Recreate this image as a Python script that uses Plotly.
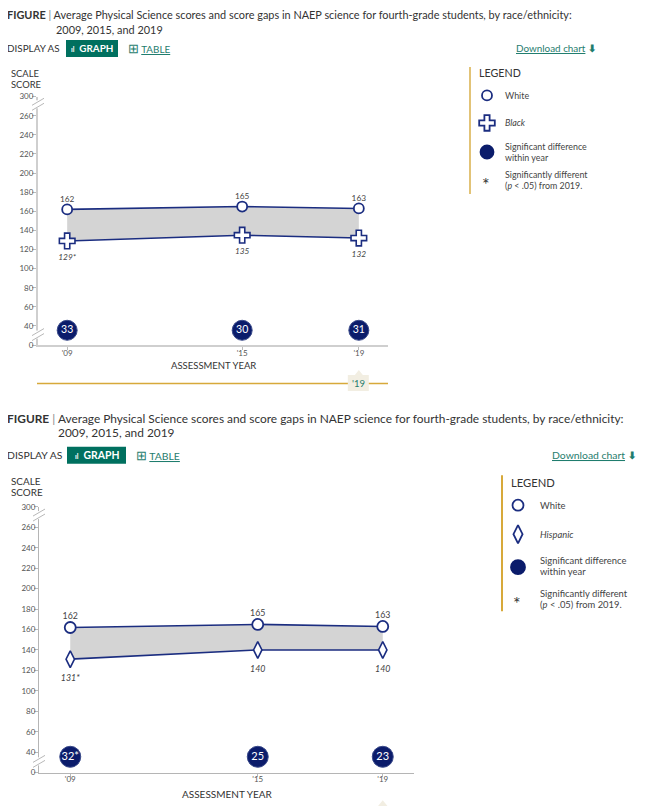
import plotly.graph_objects as go

# reference canvas is 667x806; the page body adds an 8px margin.  The photographed page also
# maps page rows to picture rows as  picture_y = SHIFT + SCALE_Y * page_y, which is undone below.
W, H = 667, 806
OFF = 8
SHIFT, SCALE_Y = 5.2, 0.987
FW, FH = W - 2 * OFF, 803
FONT = "Lato, 'Open Sans', sans-serif"

# ---------------- data ----------------
years = [2009, 2015, 2019]
year_labels = ["'09", "'15", "'19"]
ytick_vals = [20, 40, 60, 80, 100, 120, 140, 160, 180, 200, 220, 240, 260, 280]
ytick_text = ["0", "40", "60", "80", "100", "120", "140", "160", "180", "200", "220", "240", "260", "300"]

p1_white = [162, 165, 163]
p1_black = [129, 135, 132]
p1_white_labels = ["162", "165", "163"]
p1_black_labels = ["129*", "135", "132"]
p1_gaps = ["33", "30", "31"]

p2_white = [162, 165, 163]
p2_hisp = [131, 140, 140]
p2_white_labels = ["162", "165", "163"]
p2_hisp_labels = ["131*", "140", "140"]
p2_gaps = ["32*", "25", "23"]

GAP_LEVEL = 35.5
title_text = ("<b>FIGURE</b> <span style='color:#888'>|</span> Average Physical Science scores and score gaps "
              "in NAEP science for fourth-grade students, by race/ethnicity:")

# ---------------- styling ----------------
NAVY = "#1b2d80"
NAVY_DARK = "#0b1c6b"
GRAY_FILL = "#d4d4d4"
TEAL = "#1f7d6e"
BTN = "#00705f"
GOLD = "#d7a93a"
GOLD_LIGHT = "#e2c377"
CLEAR = "rgba(0,0,0,0)"

# panel geometry in reference pixels (left, right, y of value 20, y of value 280)
P1 = dict(l=38, r=388, yb=345.0, yt=96.7)
P2 = dict(l=39, r=414, yb=772.3, yt=506.7)


def vpx(p, v):
    return p["yb"] - (v - 20) * (p["yb"] - p["yt"]) / 260.0


def xpx(p, yr):
    return p["l"] + (yr - 2008) * (p["r"] - p["l"]) / 12.0


def fig_y(y):  # reference pixel row -> figure pixel row
    return (y - SHIFT) / SCALE_Y - OFF


def ref_y(fy):  # figure pixel row -> reference pixel row
    return (fy + OFF) * SCALE_Y + SHIFT


def px(x):
    return (x - OFF) / FW


def py(y):
    return 1 - fig_y(y) / FH


fig = go.Figure()


def add_panel(xa, ya, white, other, wl, ol, gaps, sym, osize, wsize, gsize, lblsize, gapfont,
              wpad, opad):
    common = dict(xaxis=xa, yaxis=ya, showlegend=False, cliponaxis=False)
    fig.add_trace(go.Scatter(x=years, y=other, mode="lines", line=dict(width=0, color=NAVY),
                             hoverinfo="skip", **common))
    fig.add_trace(go.Scatter(x=years, y=white, mode="lines", line=dict(width=0, color=NAVY),
                             fill="tonexty", fillcolor=GRAY_FILL, hoverinfo="skip", **common))
    fig.add_trace(go.Scatter(x=years, y=other, mode="lines+markers",
                             line=dict(width=1.6, color=NAVY),
                             marker=dict(symbol=sym, size=osize, color="white",
                                         line=dict(width=1.6, color=NAVY)), **common))
    fig.add_trace(go.Scatter(x=years, y=white, mode="lines+markers",
                             line=dict(width=1.6, color=NAVY),
                             marker=dict(symbol="circle", size=wsize, color="white",
                                         line=dict(width=1.8, color=NAVY)), **common))
    # value labels (transparent markers only set the text offset)
    fig.add_trace(go.Scatter(x=years, y=other, mode="markers+text",
                             marker=dict(size=opad, color=CLEAR),
                             text=["<i>%s</i>" % t for t in ol], textposition="bottom center",
                             textfont=dict(size=lblsize, color="#444", family=FONT),
                             hoverinfo="skip", **common))
    fig.add_trace(go.Scatter(x=years, y=white, mode="markers+text",
                             marker=dict(size=wpad, color=CLEAR),
                             text=wl, textposition="top center",
                             textfont=dict(size=lblsize, color="#444", family=FONT),
                             hoverinfo="skip", **common))
    # gap circles
    fig.add_trace(go.Scatter(x=years, y=[GAP_LEVEL] * 3, mode="markers+text",
                             marker=dict(symbol="circle", size=gsize, color=NAVY_DARK,
                                         line=dict(width=1, color="#3a4a8a")),
                             text=gaps, textposition="middle center",
                             textfont=dict(size=gapfont, color="white", family=FONT), **common))


add_panel("x", "y", p1_white, p1_black, p1_white_labels, p1_black_labels, p1_gaps,
          "cross", 13, 10, 20, 8.3, 10.5, 7, 19)
add_panel("x2", "y2", p2_white, p2_hisp, p2_white_labels, p2_hisp_labels, p2_gaps,
          "diamond-tall", 12, 11, 21, 8.8, 11, 8, 23)

# ---------------- legend markers (pixel overlay axis) ----------------
leg_items = [
    (487, 95.5, "circle", 10, "white"),
    (487, 123, "cross", 13, "white"),
    (487, 152, "circle", 13, NAVY_DARK),
    (518, 505, "circle", 11, "white"),
    (518, 534, "diamond-tall", 13, "white"),
    (518, 567, "circle", 14, NAVY_DARK),
]
for lx, ly, sym, sz, col in leg_items:
    fig.add_trace(go.Scatter(x=[lx], y=[ly], mode="markers", xaxis="x3", yaxis="y3",
                             marker=dict(symbol=sym, size=sz, color=col, opacity=1,
                                         line=dict(width=1.8, color=NAVY if col == "white" else NAVY_DARK)),
                             showlegend=False, hoverinfo="skip", cliponaxis=False))

annotations = []
shapes = []


def txt(x, y, s, size, color="#333", xanchor="left", yanchor="middle", family=FONT):
    annotations.append(dict(x=px(x), y=py(y), xref="paper", yref="paper", text=s, showarrow=False,
                            xanchor=xanchor, yanchor=yanchor, borderpad=0,
                            font=dict(size=size, color=color, family=family)))


def header(y0, yd, btn, table_x, dl_x, scale_y, sz, sz2, x2):
    txt(6, y0, title_text, sz, "#333")
    txt(x2, y0 + 14.5, "2009, 2015, and 2019", sz, "#333")
    txt(6, yd, "DISPLAY AS", sz2, "#333")
    shapes.append(dict(type="rect", xref="x3", yref="y3", x0=btn[0], x1=btn[1], y0=yd - 8.5, y1=yd + 8.5,
                       fillcolor=BTN, line=dict(width=0), layer="below"))
    txt((btn[0] + btn[1]) / 2, yd, "<b><span style='font-size:7px'>ıl</span>  GRAPH</b>", sz2,
        "white", xanchor="center")
    txt(table_x, yd, "<span style='font-size:13px'>⊞</span> <u>TABLE</u>", sz2, TEAL)
    txt(dl_x, yd, "<u>Download chart</u> <b>⬇</b>", sz2, TEAL)
    txt(10, scale_y, "SCALE", sz2 - 0.5, "#333")
    txt(10, scale_y + 11, "SCORE", sz2 - 0.5, "#333")


header(15, 48.5, (66, 118), 127, 515, 74, 10.9, 9.9, 55)
header(418, 455, (67, 126), 135, 551, 481, 11.9, 10.4, 57)


def legend(lx, ly, tx, rows, other_name, sz, col):
    shapes.append(dict(type="line", xref="x3", yref="y3", x0=lx, x1=lx, y0=ly[0], y1=ly[1],
                       line=dict(color=col, width=2)))
    txt(lx + 8, rows[0], "LEGEND", 10.7 if lx < 480 else 11.2, "#333")
    txt(tx, rows[1], "White", sz, "#444")
    txt(tx, rows[2], "<i>%s</i>" % other_name, sz, "#444")
    txt(tx, rows[3] - 5.5, "Significant difference", sz, "#444")
    txt(tx, rows[3] + 5.5, "within year", sz, "#444")
    txt(tx, rows[4] - 5.5, "Significantly different", sz, "#444")
    txt(tx, rows[4] + 5.5, "(<i>p</i> &lt; .05) from 2019.", sz, "#444")
    txt(tx - 18 if lx < 480 else tx - 22, rows[4] + 4, "*", 18, "#333", xanchor="center")


legend(470, (67, 194), 504, [73, 95.5, 123, 152, 180], "Black", 8.9, GOLD_LIGHT)
legend(502, (475, 611), 539, [482, 505, 534, 566, 599], "Hispanic", 9.4, GOLD)


def axis_breaks(p):
    for v in (272, 31):
        yc = vpx(p, v)
        ax = p["l"]
        shapes.append(dict(type="line", xref="x3", yref="y3", x0=ax, x1=ax, y0=yc - 4, y1=yc + 4,
                           line=dict(color="white", width=4)))
        for d in (-2.5, 2.5):
            shapes.append(dict(type="line", xref="x3", yref="y3", x0=ax - 6, x1=ax + 6,
                               y0=yc + d + 3.5, y1=yc + d - 3.5, line=dict(color="#b8b8b8", width=1)))


axis_breaks(P1)
axis_breaks(P2)

# x axis titles
txt(213, 365, "ASSESSMENT YEAR", 9.5, "#333", xanchor="center")
txt(227, 794, "ASSESSMENT YEAR", 10, "#333", xanchor="center")

# year slider (panel 1)
sx = xpx(P1, 2019)
shapes.append(dict(type="line", xref="x3", yref="y3", x0=37, x1=388, y0=383.5, y1=383.5,
                   line=dict(color=GOLD, width=1.5)))
shapes.append(dict(type="path", xref="x3", yref="y3",
                   path=f"M {sx-11},{375} L {sx-4},{375} L {sx},{370} L {sx+4},{375} L {sx+10},{375} "
                        f"L {sx+10},{391} L {sx-11},{391} Z",
                   fillcolor="#f2eee2", line=dict(width=0)))
txt(sx, 383.5, "'19", 9.5, TEAL, xanchor="center")
# slider tab peeking in at the bottom of panel 2
sx2 = xpx(P2, 2019)
shapes.append(dict(type="path", xref="x3", yref="y3",
                   path=f"M {sx2-5},{806} L {sx2},{800} L {sx2+5},{806} Z",
                   fillcolor="#f2eee2", line=dict(width=0)))


def xaxis_cfg(p, lw, lc):
    return dict(domain=[px(p["l"]), px(p["r"])], range=[2008, 2020],
                tickvals=years, ticktext=year_labels,
                showline=True, linecolor=lc, linewidth=lw, ticks="outside", ticklen=3,
                tickcolor="#bbbbbb", tickfont=dict(size=8, color="#555", family=FONT),
                ticklabelstandoff=-4,
                showgrid=False, zeroline=False, fixedrange=True)


def yaxis_cfg(p, lw, lc):
    return dict(domain=[py(p["yb"]), py(p["yt"])], range=[20, 280],
                tickvals=ytick_vals, ticktext=ytick_text, showline=True, linecolor=lc, linewidth=lw,
                ticks="outside", ticklen=4, tickcolor="#bbbbbb",
                tickfont=dict(size=8, color="#555", family=FONT), ticklabelstandoff=-3,
                showgrid=False, zeroline=False, fixedrange=True)


fig.update_layout(
    width=FW, height=FH, autosize=False,
    margin=dict(l=0, r=0, t=0, b=0),
    paper_bgcolor="white", plot_bgcolor="rgba(0,0,0,0)",
    font=dict(family=FONT, color="#333"),
    showlegend=False,
    xaxis=dict(**xaxis_cfg(P1, 2, "#cfcfcf"), anchor="y"),
    yaxis=dict(**yaxis_cfg(P1, 2, "#cfcfcf"), anchor="x"),
    xaxis2=dict(**xaxis_cfg(P2, 1.2, "#b5b5b5"), anchor="y2"),
    yaxis2=dict(**yaxis_cfg(P2, 1.2, "#b5b5b5"), anchor="x2"),
    xaxis3=dict(domain=[0, 1], range=[OFF, W - OFF], visible=False, anchor="y3", fixedrange=True),
    yaxis3=dict(domain=[0, 1], range=[ref_y(FH), ref_y(0)], visible=False, anchor="x3", fixedrange=True),
    annotations=annotations,
    shapes=shapes,
)

fig.write_html("out.html")
